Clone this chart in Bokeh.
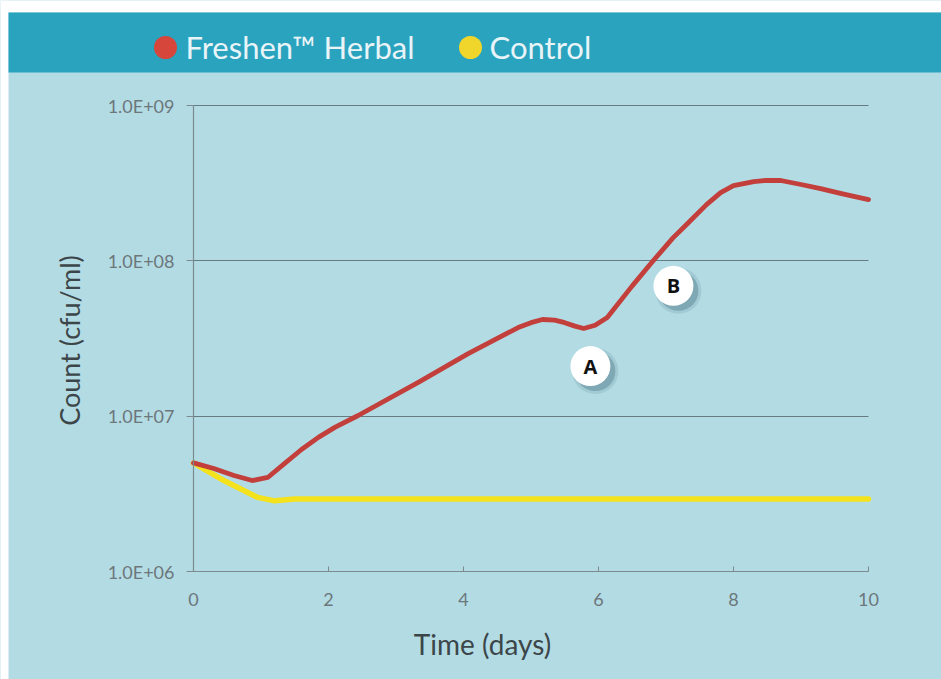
import math
from bokeh.plotting import figure
from bokeh.models import Range1d, FixedTicker
from bokeh.embed import file_html
from bokeh.resources import INLINE
from bokeh.core.properties import value

# ---- data ----
series_names = ["Freshen\u2122 Herbal", "Control"]
series_colors = ["#c23f3b", "#f3e21c"]
legend_dot_colors = ["#d6463b", "#f0d52b"]

herbal_days = [0, 0.3, 0.6, 0.87, 1.1, 1.36, 1.6, 1.85, 2.1, 2.44, 3.33, 4.07, 4.81,
               5.0, 5.17, 5.35, 5.5, 5.65, 5.78, 5.95, 6.13, 6.5, 6.81, 7.1, 7.32,
               7.6, 7.81, 8.0, 8.3, 8.5, 8.7, 9.0, 9.29, 9.6, 10]
herbal_counts = [5.0e6, 4.6e6, 4.15e6, 3.85e6, 4.03e6, 5.0e6, 6.1e6, 7.3e6, 8.5e6,
                 1.01e7, 1.65e7, 2.53e7, 3.72e7, 4.0e7, 4.19e7, 4.15e7, 4.0e7, 3.8e7,
                 3.67e7, 3.85e7, 4.32e7, 6.9e7, 1.0e8, 1.4e8, 1.74e8, 2.3e8, 2.75e8,
                 3.05e8, 3.24e8, 3.3e8, 3.29e8, 3.1e8, 2.92e8, 2.71e8, 2.48e8]

control_days = [0, 0.45, 0.95, 1.2, 1.5, 10]
control_counts = [5.0e6, 3.85e6, 3.0e6, 2.85e6, 2.93e6, 2.93e6]

marker_labels = ["A", "B"]
marker_days = [5.88, 7.11]
marker_counts = [2.1e7, 6.9e7]

x_ticks = [0, 2, 4, 6, 8, 10]
y_ticks = [1e6, 1e7, 1e8, 1e9]
y_tick_labels = ["1.0E+06", "1.0E+07", "1.0E+08", "1.0E+09"]

x_title = "Time (days)"
y_title = "Count (cfu/ml)"

# ---- style / layout ----
BG = "#b3dbe4"
BAND = "#2aa3bf"
GRID = "#5e7177"
AXIS = "#7d8b8f"
TICK_TXT = "#6c777b"
TITLE_TXT = "#3c4649"
FONT = "Lato"

W, H = 941, 679
X0, PX_PER_DAY = 193.0, 67.5        # pixel of day 0, pixels per day
Y9, PX_PER_DEC = 105.0, 466.0 / 3   # pixel of 1e9, pixels per decade


def dx(px):
    return (px - X0) / PX_PER_DAY


def dy(py):
    return 10 ** (9 - (py - Y9) / PX_PER_DEC)


p = figure(width=W, height=H, y_axis_type="log",
           x_range=Range1d(dx(0), dx(W)), y_range=Range1d(dy(H), dy(0)),
           min_border_left=0, min_border_right=0, min_border_top=0, min_border_bottom=0,
           toolbar_location=None, output_backend="svg")
p.background_fill_color = BG
p.border_fill_color = BG
p.outline_line_color = None

# page edge and header band
p.quad(left=[dx(0), dx(0)], right=[dx(8), dx(W)], top=[dy(0), dy(0)], bottom=[dy(H), dy(12)],
       color="white", line_color=None)
p.quad(left=[dx(8)], right=[dx(W)], top=[dy(12)], bottom=[dy(72)], color=BAND, line_color=None)

# legend in the band
p.scatter([dx(165), dx(470)], [dy(47), dy(47)], size=23, color=legend_dot_colors,
          line_color=None)
p.text([dx(185), dx(489)], [dy(46), dy(46)], text=series_names, text_color="#e8f4f7",
       text_font=value(FONT), text_font_size="31px", text_baseline="middle",
       text_align="left")

# grid
p.xgrid.visible = False
p.ygrid.ticker = FixedTicker(ticks=y_ticks)
p.ygrid.bounds = (y_ticks[0], y_ticks[-1])
p.ygrid.cross_bounds = (x_ticks[0], x_ticks[-1])
p.ygrid.grid_line_color = GRID
p.ygrid.grid_line_width = 1.2
p.ygrid.grid_line_alpha = 0.9

# axes
xa, ya = p.xaxis[0], p.yaxis[0]
xa.ticker = FixedTicker(ticks=x_ticks)
ya.ticker = FixedTicker(ticks=y_ticks)
ya.major_label_overrides = dict(zip(y_ticks, y_tick_labels))
xa.fixed_location = y_ticks[0]
ya.fixed_location = x_ticks[0]
xa.bounds = (x_ticks[0], x_ticks[-1])
ya.bounds = (y_ticks[0], y_ticks[-1])

for ax in (xa, ya):
    ax.axis_line_color = AXIS
    ax.axis_line_width = 1.2
    ax.major_tick_line_color = AXIS
    ax.minor_tick_line_color = None
    ax.major_label_text_color = TICK_TXT
    ax.major_label_text_font = FONT

xa.major_tick_in = 5
xa.major_tick_out = 0
xa.major_label_text_font_size = "18px"
xa.major_label_standoff = 21

ya.major_tick_in = 0
ya.major_tick_out = 7
ya.major_label_text_font_size = "18px"
ya.major_label_standoff = 12

# axis titles
p.text([dx(482)], [dy(643)], text=[x_title], text_font=value(FONT),
       text_font_size="28px", text_color=TITLE_TXT, text_align="center",
       text_baseline="middle")
p.text([dx(69)], [dy(340)], text=[y_title], text_font=value(FONT),
       text_font_size="27px", text_color=TITLE_TXT, text_align="center",
       text_baseline="middle", angle=math.pi / 2)

# series
p.line(control_days, control_counts, line_color=series_colors[1], line_width=5.5,
       line_join="round", line_cap="round")
p.line(herbal_days, herbal_counts, line_color=series_colors[0], line_width=4.8,
       line_join="round", line_cap="round")

# A / B markers with soft shadow
sh_x = [d + 5 / PX_PER_DAY for d in marker_days]
sh_y = [c * 10 ** (-5 / PX_PER_DEC) for c in marker_counts]
p.scatter(sh_x, sh_y, size=46, color="#3d6b78", alpha=0.15, line_color=None)
p.scatter(sh_x, sh_y, size=40, color="#3d6b78", alpha=0.35, line_color=None)
p.scatter(marker_days, marker_counts, size=40, color="white", line_color=None)
p.text(marker_days, marker_counts, text=marker_labels, text_font=value("Open Sans"),
       text_font_style="bold", text_font_size="20px", text_color="#111111",
       text_align="center", text_baseline="middle")

open("out.html", "w").write(file_html(p, INLINE))
